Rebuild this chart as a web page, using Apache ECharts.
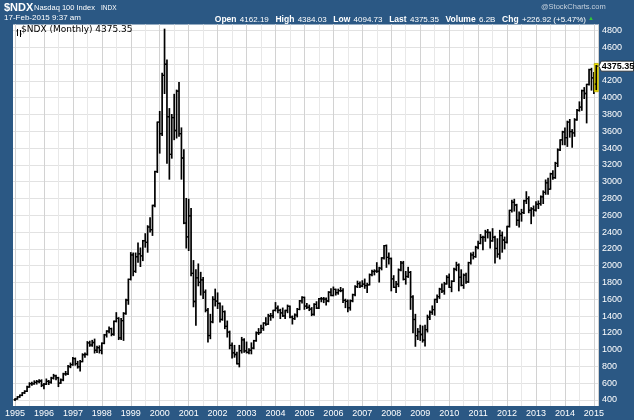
<!DOCTYPE html>
<html><head><meta charset="utf-8">
<script src="https://cdn.jsdelivr.net/npm/echarts@6/dist/echarts.min.js"></script>
<style>html,body{margin:0;padding:0;background:#2b5884}#c{width:634px;height:420px}</style>
</head><body><div id="c"></div>
<script>
// ---- data (monthly OHLC, Jan 1995 .. Feb 2015) ----
const startYear = 1995;
const opens = [
404,412,437,456,486,503,555,595,593,610,620,626,
576,589,622,612,660,688,665,602,639,711,711,799,
821,893,834,796,858,939,944,1080,1055,1085,993,1023,
991,1075,1175,1220,1250,1183,1337,1373,1140,1345,1430,1590,
1836,2127,1932,2106,2141,2116,2296,2278,2460,2428,2716,3120,
3708,3571,4266,4398,3773,3324,3763,3609,4078,3571,3282,2507,
2342,2593,1908,1573,1855,1800,1830,1684,1469,1168,1330,1597,
1577,1550,1359,1452,1277,1208,1051,962,942,832,989,1116,
984,967,992,1018,1106,1201,1201,1253,1315,1303,1400,1403,
1468,1494,1468,1438,1401,1466,1516,1388,1368,1412,1478,1580,
1621,1519,1504,1482,1420,1538,1494,1605,1604,1601,1579,1683,
1645,1717,1678,1703,1702,1587,1575,1498,1582,1654,1751,1786,
1757,1780,1763,1772,1892,1930,1934,1933,1971,2092,2239,2099,
2085,1842,1742,1781,1949,2031,1837,1871,1920,1627,1359,1167,
1212,1180,1113,1237,1387,1445,1477,1597,1631,1720,1698,1783,
1860,1741,1813,1957,2006,1862,1765,1887,1806,2036,2127,2108,
2218,2265,2336,2338,2400,2395,2296,2338,2205,2137,2359,2305,
2278,2466,2659,2755,2722,2540,2616,2632,2772,2799,2660,2677,
2661,2731,2739,2819,2873,2986,2910,3094,3048,3218,3378,3498,
3592,3524,3709,3596,3582,3737,3849,3888,4083,4050,4158,4335,
4236,4162.19];
const highs = [
415,440,460,488,510,565,605,610,628,632,640,640,
595,650,632,670,705,695,670,650,718,740,810,840,
905,900,860,870,950,960,1095,1100,1110,1125,1040,1045,
1080,1180,1225,1270,1255,1340,1440,1380,1370,1440,1600,1840,
2155,2150,2150,2270,2210,2300,2380,2475,2570,2720,3125,3710,
3836,4290,4816,4450,3870,3800,4040,4090,4180,3640,3380,2800,
2790,2680,2060,1950,2020,1920,1860,1710,1490,1420,1630,1720,
1675,1555,1520,1460,1340,1220,1080,1050,970,1050,1145,1130,
1090,1010,1080,1110,1210,1250,1290,1320,1380,1420,1430,1470,
1560,1520,1480,1495,1470,1530,1520,1400,1425,1490,1585,1630,
1625,1550,1530,1500,1545,1570,1610,1620,1620,1615,1690,1725,
1745,1720,1720,1740,1725,1600,1590,1590,1660,1760,1815,1805,
1820,1840,1790,1900,1945,1950,2035,1980,2095,2240,2245,2150,
2090,1880,1810,1960,2050,2050,1930,1980,1930,1640,1420,1250,
1290,1280,1290,1410,1460,1520,1600,1650,1730,1780,1800,1880,
1900,1820,1970,2040,2020,1950,1900,1910,2040,2150,2160,2230,
2290,2370,2350,2420,2430,2400,2440,2350,2320,2420,2400,2340,
2470,2660,2780,2790,2730,2640,2670,2780,2880,2820,2690,2710,
2760,2770,2830,2890,3020,3040,3100,3130,3230,3390,3500,3600,
3640,3720,3740,3620,3750,3860,3950,4090,4120,4160,4340,4350,
4300,4384.03];
const lows = [
395,410,432,452,478,500,552,575,588,590,605,560,
535,585,585,600,650,640,560,598,630,695,705,785,
815,815,780,745,855,910,935,1040,1040,960,965,960,
950,1070,1150,1200,1165,1170,1330,1120,1120,1110,1420,1540,
1830,1880,1920,2040,1990,2060,2220,2160,2400,2360,2700,3110,
3340,3550,4050,3220,3030,3280,3500,3520,3540,3030,2500,2210,
2180,1880,1510,1290,1760,1650,1610,1450,1090,1130,1320,1520,
1490,1330,1350,1250,1150,1010,900,910,830,795,960,970,
960,950,950,1010,1100,1180,1200,1230,1290,1300,1350,1380,
1460,1440,1370,1395,1370,1440,1380,1305,1360,1390,1475,1555,
1480,1490,1465,1405,1410,1490,1490,1570,1560,1530,1570,1640,
1640,1650,1660,1690,1560,1500,1450,1470,1570,1640,1740,1740,
1750,1730,1680,1770,1880,1890,1920,1805,1950,2080,1980,2020,
1700,1740,1680,1750,1940,1830,1780,1860,1480,1200,1040,1120,
1110,1090,1043,1210,1360,1420,1410,1560,1610,1680,1660,1780,
1740,1690,1810,1940,1700,1760,1730,1790,1800,2020,2080,2100,
2200,2260,2190,2290,2330,2210,2290,2030,2100,2080,2160,2200,
2270,2460,2640,2650,2480,2460,2530,2620,2740,2630,2500,2590,
2650,2680,2720,2740,2850,2850,2910,3030,3040,3180,3370,3440,
3440,3420,3530,3410,3540,3730,3840,3850,3990,3700,4150,4090,
4050,4094.73];
const closes = [
412,437,456,486,503,555,595,593,610,620,626,576,
589,622,612,660,688,665,602,639,711,711,799,821,
893,834,796,858,939,944,1080,1055,1085,993,1023,991,
1075,1175,1220,1250,1183,1337,1373,1140,1345,1430,1590,1836,
2127,1932,2106,2141,2116,2296,2278,2460,2428,2716,3120,3708,
3571,4266,4398,3773,3324,3763,3609,4078,3571,3282,2507,2342,
2593,1908,1573,1855,1800,1830,1684,1469,1168,1330,1597,1577,
1550,1359,1452,1277,1208,1051,962,942,832,989,1116,984,
967,992,1018,1106,1201,1201,1253,1315,1303,1400,1403,1468,
1494,1468,1438,1401,1466,1516,1388,1368,1412,1478,1580,1621,
1519,1504,1482,1420,1538,1494,1605,1604,1601,1579,1683,1645,
1717,1678,1703,1702,1587,1575,1498,1582,1654,1751,1786,1757,
1780,1763,1772,1892,1930,1934,1933,1971,2092,2239,2099,2085,
1842,1742,1781,1949,2031,1837,1871,1920,1627,1359,1167,1212,
1180,1113,1237,1387,1445,1477,1597,1631,1720,1698,1783,1860,
1741,1813,1957,2006,1862,1765,1887,1806,2036,2127,2108,2218,
2265,2336,2338,2400,2395,2296,2338,2205,2137,2359,2305,2278,
2466,2659,2755,2722,2540,2616,2632,2772,2799,2660,2677,2661,
2731,2739,2819,2873,2986,2910,3094,3048,3218,3378,3498,3592,
3524,3709,3596,3582,3737,3849,3888,4083,4050,4158,4335,4236,
4148.43,4375.35];
const yearLabels = ['1995','1996','1997','1998','1999','2000','2001','2002','2003','2004','2005',
  '2006','2007','2008','2009','2010','2011','2012','2013','2014','2015'];
const yTickMin = 400, yTickMax = 4800, yTickStep = 200;
const headerSymbol = '$NDX', headerName = 'Nasdaq 100 Index', headerExch = 'INDX';
const headerDate = '17-Feb-2015 9:37 am';
const quote = {Open:'4162.19', High:'4384.03', Low:'4094.73', Last:'4375.35', Volume:'6.2B', Chg:'+226.92 (+5.47%)'};
const legendText = '$NDX (Monthly) 4375.35';

// ---- layout ----
const W = 634, H = 420;
const PL = 13, PR = 598, PT = 24.5, PB = 406;     // plot rectangle
const X0 = 15, DX = 2.412;                          // px of first month, px per month
const YPX_HI = 30.5, YPX_LO = 400;                  // px of yTickMax / yTickMin
const BG = '#2b5884';

const n = closes.length;
const data = closes.map((c, i) => [i, opens[i], highs[i], lows[i], c]);
const mRight = (PR - X0) / DX;
const mLeft = (PL - X0) / DX;

function renderItem(params, api) {
  const i = api.value(0);
  const ph = api.coord([i, api.value(2)]);
  const pl = api.coord([i, api.value(3)]);
  const po = api.coord([i, api.value(1)]);
  const pc = api.coord([i, api.value(4)]);
  const x = ph[0];
  const children = [];
  const last = params.dataIndex === n - 1;
  if (last) {
    children.push({type: 'rect', shape: {x: x - 2, y: ph[1] - 2, width: 4, height: pl[1] - ph[1] + 4},
      style: {fill: '#fff200', stroke: '#b8a800', lineWidth: 0.8}});
  }
  children.push({type: 'line', shape: {x1: x, y1: ph[1] - 0.5, x2: x, y2: pl[1] + 0.5}, style: {stroke: '#000', lineWidth: 1.7}});
  children.push({type: 'line', shape: {x1: x - 1.5, y1: po[1], x2: x, y2: po[1]}, style: {stroke: '#000', lineWidth: 1.3}});
  children.push({type: 'line', shape: {x1: x, y1: pc[1], x2: x + 1.5, y2: pc[1]}, style: {stroke: '#000', lineWidth: 1.3}});
  if (last) {
    const yc = pc[1];
    children.push({type: 'polygon', shape: {points: [[x + 2.6, yc], [x + 5, yc - 5], [W - 0.5, yc - 5], [W - 0.5, yc + 5], [x + 5, yc + 5]]},
      style: {fill: '#fff', stroke: '#222', lineWidth: 0.8}});
    children.push({type: 'text', style: {x: x + 5.5, y: yc + 0.5, text: api.value(4).toFixed(2), fill: '#000',
      font: 'bold 9px "Liberation Sans", Arial, sans-serif', verticalAlign: 'middle', align: 'left'}});
  }
  return {type: 'group', children: children};
}

const chart = echarts.init(document.getElementById('c'), null, {renderer: 'canvas'});
const font = '"Liberation Sans", Arial, sans-serif';
chart.setOption({
  backgroundColor: BG,
  animation: false,
  grid: [
    {left: PL, right: W - PR, top: PT, bottom: H - PB, show: true, backgroundColor: '#fff', borderColor: '#1b3a5c', borderWidth: 0},
    {left: X0, right: W - PR, top: PT, bottom: H - PB},
    {left: PL, right: W - PR, top: YPX_HI, bottom: H - YPX_LO}
  ],
  xAxis: [
    {gridIndex: 0, type: 'value', show: false, min: 0, max: 1},
    {gridIndex: 1, type: 'value', position: 'top', min: 0, max: mRight, interval: 6,
      axisLine: {show: false}, axisTick: {show: false}, axisLabel: {show: false},
      splitLine: {show: true, lineStyle: {color: '#e8e8e8', width: 1}}},
    {gridIndex: 1, type: 'value', position: 'bottom', min: 0, max: mRight, interval: 12,
      axisLine: {show: false}, axisTick: {show: false},
      axisLabel: {show: true, color: '#fff', fontSize: 9, fontFamily: font, margin: 3, showMaxLabel: false, showMinLabel: true,
        formatter: v => (v % 12 === 0 && yearLabels[v / 12]) ? yearLabels[v / 12] : ''},
      splitLine: {show: true, lineStyle: {color: '#d2d2d2', width: 1}}},
    {gridIndex: 2, type: 'value', show: false, min: mLeft, max: mRight}
  ],
  yAxis: [
    {gridIndex: 0, type: 'value', show: false, min: 0, max: 1},
    {gridIndex: 1, type: 'value', show: false, min: 0, max: 1},
    {gridIndex: 2, type: 'value', position: 'right', min: yTickMin, max: yTickMax, interval: yTickStep,
      axisLine: {show: false}, axisTick: {show: false},
      axisLabel: {color: '#fff', fontSize: 9, fontFamily: font, margin: 4, formatter: v => String(v)},
      splitLine: {show: true, lineStyle: {color: '#e2e2e2', width: 1}}}
  ],
  series: [{
    type: 'custom', xAxisIndex: 3, yAxisIndex: 2, clip: false, data: data, renderItem: renderItem,
    encode: {x: 0, y: [1, 2, 3, 4]}, z: 5
  }],
  graphic: [
    {type: 'text', left: 4, top: 2, z: 20, style: {text: headerSymbol, fill: '#fff', font: 'bold 11px ' + font}},
    {type: 'text', left: 34, top: 3.5, z: 20, style: {text: headerName, fill: '#fff', font: '7.5px ' + font}},
    {type: 'text', left: 101, top: 4.5, z: 20, style: {text: headerExch, fill: '#fff', font: '6.5px ' + font}},
    {type: 'text', left: 541, top: 3, z: 20, style: {text: '@StockCharts.com', fill: '#c5d0dc', font: '7.5px ' + font}},
    {type: 'text', left: 4, top: 14, z: 20, style: {text: headerDate, fill: '#fff', font: '8px ' + font}},
    {type: 'text', right: 48, top: 14, z: 20, style: {
      text: Object.keys(quote).map(k => '{b|' + k + '} {n|' + quote[k] + '}').join('  '),
      rich: {b: {fill: '#fff', font: 'bold 8.5px ' + font}, n: {fill: '#fff', font: '8px ' + font}}}},
    {type: 'text', left: 588, top: 15, z: 20, style: {text: '▲', fill: '#33cc33', font: '6px ' + font}},
    {type: 'group', left: 14, top: 26.5, z: 20, children: [
      {type: 'line', z: 20, shape: {x1: 1, y1: 0, x2: 1, y2: 7}, style: {stroke: '#000', lineWidth: 1}},
      {type: 'line', z: 20, shape: {x1: 0, y1: 2, x2: 1, y2: 2}, style: {stroke: '#000', lineWidth: 1}},
      {type: 'line', z: 20, shape: {x1: 4, y1: 1, x2: 4, y2: 8}, style: {stroke: '#000', lineWidth: 1}},
      {type: 'line', z: 20, shape: {x1: 4, y1: 5, x2: 5, y2: 5}, style: {stroke: '#000', lineWidth: 1}}
    ]},
    {type: 'text', left: 21, top: 25.5, z: 20, style: {text: legendText, fill: '#000', font: '9px "DejaVu Sans", sans-serif'}}
  ]
});
</script></body></html>
